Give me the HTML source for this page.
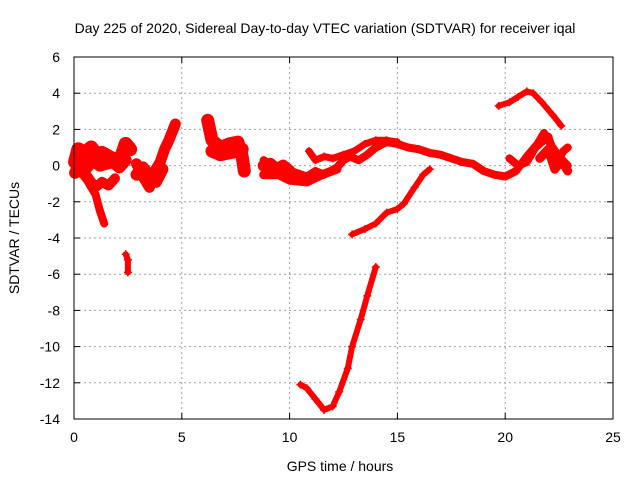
<!DOCTYPE html>
<html><head><meta charset="utf-8"><style>
body{margin:0;background:#fff}
svg text{font-family:"Liberation Sans",sans-serif;font-size:14px;fill:#000}
</style></head><body>
<svg id="chart" width="640" height="480" xmlns="http://www.w3.org/2000/svg">
<text x="325" y="33" text-anchor="middle">Day 225 of 2020, Sidereal Day-to-day VTEC variation (SDTVAR) for receiver iqal</text>
<text x="340" y="471" text-anchor="middle">GPS time / hours</text>
<text transform="translate(19,238) rotate(-90)" text-anchor="middle">SDTVAR / TECUs</text>
<g id="grid"></g><g id="series"></g>
<rect x="74" y="57" width="539" height="362" fill="none" stroke="#000" stroke-width="1"/>
</svg>
<script>
const xTicks=[0,5,10,15,20,25];
const yTicks=[-14,-12,-10,-8,-6,-4,-2,0,2,4,6];
const earlyT=[0.05,0.2,0.5,0.8,1.1,1.3,1.6,1.9,2.2,2.4,2.6];
const earlyV=[0.2,0.9,0.7,1.0,0.5,0.7,0.5,0.3,0.5,1.2,0.9];
const early2T=[0.05,0.3,0.6,0.9,1.2,1.5,1.8,2.1,2.4];
const early2V=[-0.4,0.2,-0.1,0.3,0.0,0.1,0.2,-0.1,0.3];
const lobeT=[0.4,0.6,0.8,1.0,1.2,1.4];
const lobeV=[-0.5,-0.8,-1.2,-1.6,-2.5,-3.2];
const lobe2T=[0.5,0.8,1.0,1.3,1.6,1.9];
const lobe2V=[-0.4,-0.9,-1.2,-0.9,-1.1,-0.7];
const midT=[2.9,3.2,3.5,3.7,4.0,4.2,4.4,4.7];
const midV=[0.1,-0.6,-1.2,-0.4,0.2,0.9,1.4,2.3];
const mid2T=[2.9,3.2,3.5,3.8,4.1];
const mid2V=[-0.5,-0.1,-0.6,-0.9,-0.2];
const isoT=[2.4,2.5,2.5];
const isoV=[-4.9,-5.2,-5.9];
const c6T=[6.2,6.4,6.8,7.2,7.6,7.8,7.9];
const c6V=[2.5,1.4,1.0,1.2,1.3,0.5,-0.3];
const c6bT=[6.4,6.8,7.2,7.6,7.8];
const c6bV=[0.8,0.6,0.7,0.8,0.9];
const mainT=[8.8,9.2,9.8,10.3,10.8,11.2,11.6,12.2,12.5,12.8,13.2,13.6,14.0,14.5,15,15.5,16,16.5,17,17.5,18,18.5,19,19.5,20,20.5,21,21.5,21.8,22.2,22.5,22.9];
const mainV=[0.3,0,-0.2,-0.4,-0.6,-0.3,-0.5,-0.1,0.3,0.5,0.3,0.6,1.0,1.3,1.2,1.0,0.9,0.7,0.6,0.4,0.2,0.1,-0.3,-0.5,-0.6,-0.3,0.5,1.2,1.8,1.0,0.5,0];
const upperT=[10.9,11.2,11.6,12,12.5,13,13.5,14,14.5,15];
const upperV=[0.8,0.3,0.5,0.4,0.6,0.8,1.2,1.4,1.4,1.3];
const lowerT=[8.8,9.5,10,10.8,11.5,12.2];
const lowerV=[-0.5,-0.5,-0.8,-0.9,-0.5,-0.2];
const blobT=[8.8,9.1,9.4,9.7,10.0];
const blobV=[0.0,0.1,-0.2,0.0,-0.3];
const rightT=[20.2,20.6,21,21.4,22,22.4,22.7,22.9];
const rightV=[0.4,0,0.2,1,1.6,0.2,0.8,1];
const right2T=[21.6,22.0,22.3,22.6,22.9];
const right2V=[0.4,0.9,-0.2,0.3,-0.3];
const riseT=[12.9,13.5,14,14.5,15,15.3,15.8,16.2,16.5];
const riseV=[-3.8,-3.5,-3.2,-2.6,-2.4,-2.1,-1.2,-0.5,-0.2];
const deepT=[10.5,10.8,11.2,11.6,12,12.3,12.7,12.9,13.3,13.6,14];
const deepV=[-12.1,-12.3,-12.9,-13.5,-13.3,-12.5,-11.2,-10,-8.5,-7.2,-5.6];
const highT=[19.7,20.2,20.6,21,21.3,21.7,22.2,22.6];
const highV=[3.3,3.5,3.8,4.1,4.0,3.5,2.8,2.2];

const NS="http://www.w3.org/2000/svg";
const X=t=>74+t*539/25, Y=v=>57+(6-v)*362/20;
const grid=document.getElementById('grid'), ser=document.getElementById('series');
function mk(tag,a,p){const e=document.createElementNS(NS,tag);for(const k in a)e.setAttribute(k,a[k]);p.appendChild(e);return e;}
xTicks.forEach(t=>{
 if(t>0&&t<25){const l=mk('line',{x1:X(t),x2:X(t),y1:57,y2:419,stroke:'#a0a0a0','stroke-dasharray':'2,3'},grid);
 
 }
 mk('line',{x1:X(t),x2:X(t),y1:419,y2:413,stroke:'#000'},grid);
 mk('line',{x1:X(t),x2:X(t),y1:57,y2:63,stroke:'#000'},grid);
 const tx=mk('text',{x:X(t),y:442,'text-anchor':'middle'},grid);tx.textContent=t;
 
 
});
yTicks.forEach(v=>{
 if(v>-14&&v<6){const l=mk('line',{x1:74,x2:613,y1:Y(v),y2:Y(v),stroke:'#a0a0a0','stroke-dasharray':'2,3'},grid);
 
 }
 mk('line',{x1:74,x2:80,y1:Y(v),y2:Y(v),stroke:'#000'},grid);
 mk('line',{x1:607,x2:613,y1:Y(v),y2:Y(v),stroke:'#000'},grid);
 const tx=mk('text',{x:60,y:Y(v)+5,'text-anchor':'end'},grid);tx.textContent=v;
 
 
});
function draw(ts,vs,w,name){
 const d=ts.map((t,i)=>(i?'L':'M')+X(t).toFixed(1)+','+Y(vs[i]).toFixed(1)).join('');
 const p=mk('path',{d:d,fill:'none',stroke:'#f00','stroke-width':w,'stroke-linejoin':'round','stroke-linecap':'round'},ser);
 
 
 ts.forEach((t,i)=>{const x=X(t),y=Y(vs[i]);
  const m=mk('path',{d:`M${x-4},${y}h8M${x},${y-4}v8`,stroke:'#f00','stroke-width':1.5},ser);
  
  });
}
draw(earlyT,earlyV,14,'early-series');
draw(early2T,early2V,12,'early-series-2');
draw(lobeT,lobeV,8,'early-lobe');
draw(lobe2T,lobe2V,10,'early-lobe-2');
draw(midT,midV,11,'mid-cluster');
draw(mid2T,mid2V,12,'mid-cluster-2');
draw(isoT,isoV,6,'isolated-points');
draw(c6T,c6V,13,'cluster-6h');
draw(c6bT,c6bV,13,'cluster-6h-2');
draw(mainT,mainV,8,'main-series');
draw(upperT,upperV,7,'upper-branch');
draw(lowerT,lowerV,9,'lower-branch');
draw(blobT,blobV,12,'blob-9h');
draw(rightT,rightV,8,'right-branch');
draw(right2T,right2V,9,'right-branch-2');
draw(riseT,riseV,6,'rising-series');
draw(deepT,deepV,6,'deep-series');
draw(highT,highV,6,'high-series');
</script>
</body></html>
